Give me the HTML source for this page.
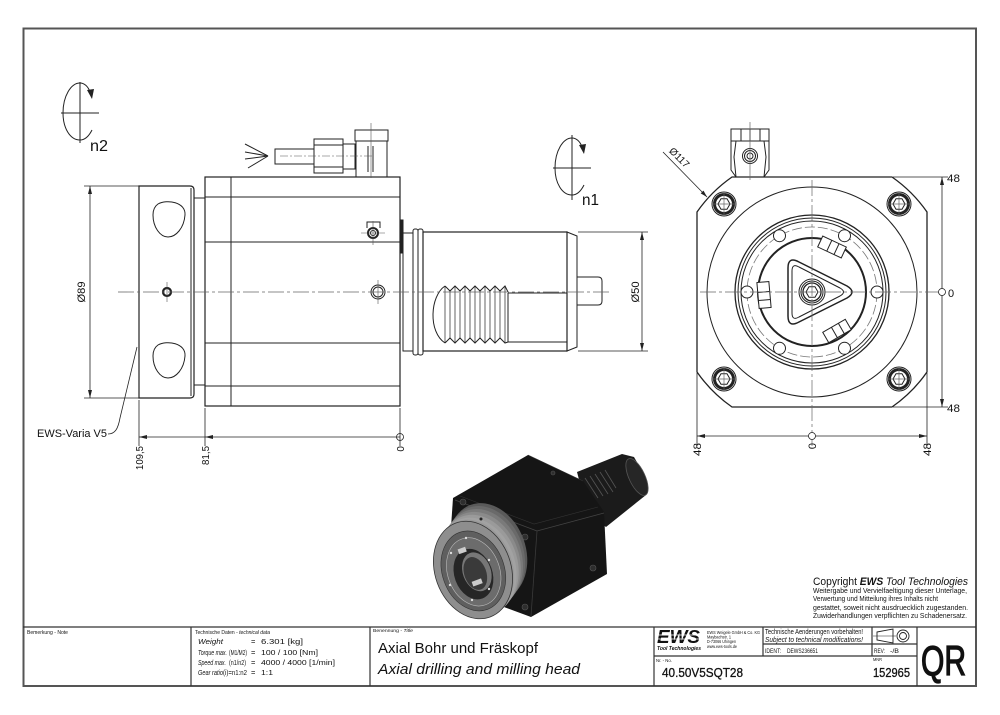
<!DOCTYPE html>
<html><head><meta charset="utf-8">
<style>
html,body{margin:0;padding:0;background:#fff;}
svg{display:block;}
text{font-family:"Liberation Sans",sans-serif;fill:#111;}
.it{font-style:italic;}
</style></head><body>
<svg width="1000" height="715" viewBox="0 0 1000 715" xmlns="http://www.w3.org/2000/svg">
<rect width="1000" height="715" fill="#fff"/>

<!-- FRAME -->
<rect x="23.5" y="28.5" width="952.5" height="657.5" fill="none" stroke="#555" stroke-width="2"/>

<!-- TITLE BLOCK LINES -->
<g stroke="#333" stroke-width="1.2" fill="none">
<line x1="23" y1="627" x2="976" y2="627"/>
<line x1="191" y1="627" x2="191" y2="686"/>
<line x1="370" y1="627" x2="370" y2="686"/>
<line x1="654" y1="627" x2="654" y2="686"/>
<line x1="763" y1="627" x2="763" y2="656"/>
<line x1="872" y1="627" x2="872" y2="656"/>
<line x1="917" y1="627" x2="917" y2="686"/>
<line x1="763" y1="644" x2="917" y2="644"/>
<line x1="654" y1="656" x2="917" y2="656"/>
</g>

<!-- TITLE BLOCK TEXT -->
<text x="27" y="634" font-size="5" textLength="41" lengthAdjust="spacingAndGlyphs">Bemerkung - Note</text>
<text x="195" y="634" font-size="5" textLength="75" lengthAdjust="spacingAndGlyphs">Technische Daten - <tspan class="it">technical data</tspan></text>
<g font-size="7.5">
<text x="198" y="644" class="it" textLength="25" lengthAdjust="spacingAndGlyphs">Weight</text>
<text x="251" y="644">=</text>
<text x="261" y="644" textLength="42" lengthAdjust="spacingAndGlyphs">6.301 [kg]</text>
<text x="198" y="655" class="it" textLength="29" lengthAdjust="spacingAndGlyphs">Torque max.</text>
<text x="229" y="655" textLength="18" lengthAdjust="spacingAndGlyphs">(M1/M2)</text>
<text x="251" y="655">=</text>
<text x="261" y="655" textLength="57" lengthAdjust="spacingAndGlyphs">100 / 100 [Nm]</text>
<text x="198" y="665" class="it" textLength="28" lengthAdjust="spacingAndGlyphs">Speed max.</text>
<text x="229" y="665" textLength="17" lengthAdjust="spacingAndGlyphs">(n1/n2)</text>
<text x="251" y="665">=</text>
<text x="261" y="665" textLength="74" lengthAdjust="spacingAndGlyphs">4000 / 4000 [1/min]</text>
<text x="198" y="675" class="it" textLength="25" lengthAdjust="spacingAndGlyphs">Gear ratio</text>
<text x="223" y="675" textLength="24" lengthAdjust="spacingAndGlyphs">(i)=n1:n2</text>
<text x="251" y="675">=</text>
<text x="261" y="675" textLength="12" lengthAdjust="spacingAndGlyphs">1:1</text>
</g>
<text x="373" y="632" font-size="4.5" textLength="40" lengthAdjust="spacingAndGlyphs">Benennung - <tspan class="it">Title</tspan></text>
<text x="378" y="653" font-size="15" textLength="160" lengthAdjust="spacingAndGlyphs">Axial Bohr und Fräskopf</text>
<text x="378" y="674" font-size="15" class="it" textLength="202" lengthAdjust="spacingAndGlyphs">Axial drilling and milling head</text>

<!-- EWS logo -->
<text x="657" y="643" font-size="18" font-weight="bold" class="it" textLength="43" lengthAdjust="spacingAndGlyphs">EWS</text>
<line x1="657" y1="635" x2="702" y2="635" stroke="#fff" stroke-width="0.8"/>
<line x1="657" y1="639" x2="702" y2="639" stroke="#fff" stroke-width="0.8"/>
<text x="657" y="650" font-size="5.5" font-weight="bold" class="it" textLength="44" lengthAdjust="spacingAndGlyphs">Tool Technologies</text>
<g font-size="4.3">
<text x="707" y="634" textLength="53" lengthAdjust="spacingAndGlyphs">EWS Weigele GmbH &amp; Co. KG</text>
<text x="707" y="638.5" textLength="24" lengthAdjust="spacingAndGlyphs">Maybachstr. 1</text>
<text x="707" y="643" textLength="29" lengthAdjust="spacingAndGlyphs">D-73066 Uhingen</text>
<text x="707" y="648" textLength="30" lengthAdjust="spacingAndGlyphs">www.ews-tools.de</text>
</g>
<text x="765" y="634" font-size="7" textLength="98" lengthAdjust="spacingAndGlyphs">Technische Aenderungen vorbehalten!</text>
<text x="765" y="642" font-size="7" class="it" textLength="98" lengthAdjust="spacingAndGlyphs">Subject to technical modifications!</text>
<text x="765" y="653" font-size="6.5" textLength="16" lengthAdjust="spacingAndGlyphs">IDENT:</text>
<text x="787" y="653" font-size="6.5" textLength="31" lengthAdjust="spacingAndGlyphs">DEWS236651</text>
<text x="874" y="653" font-size="6.5" textLength="11" lengthAdjust="spacingAndGlyphs">REV:</text>
<text x="890" y="653" font-size="6.5" textLength="9" lengthAdjust="spacingAndGlyphs">-/B</text>
<!-- projection symbol -->
<g fill="none" stroke="#222" stroke-width="0.9">
<polygon points="877,632 893,629 893,643 877,640"/>
<line x1="873" y1="636" x2="896" y2="636" stroke-width="0.6"/>
<circle cx="903" cy="636" r="6"/>
<circle cx="903" cy="636" r="3.5"/>
</g>
<text x="656" y="662" font-size="4.5" textLength="16" lengthAdjust="spacingAndGlyphs">Nr. - No.</text>
<text x="873" y="661" font-size="4.5" textLength="9" lengthAdjust="spacingAndGlyphs">MNR</text>
<text x="662" y="677" font-size="13" textLength="81" lengthAdjust="spacingAndGlyphs" stroke="#111" stroke-width="0.3">40.50V5SQT28</text>
<text x="873" y="677" font-size="13" textLength="37" lengthAdjust="spacingAndGlyphs" stroke="#111" stroke-width="0.3">152965</text>
<text x="921" y="675" font-size="42" textLength="45" lengthAdjust="spacingAndGlyphs" stroke="#111" stroke-width="1.3">QR</text>

<!-- COPYRIGHT -->
<text x="813" y="585" font-size="11" textLength="155" lengthAdjust="spacingAndGlyphs">Copyright <tspan font-weight="bold" class="it">EWS</tspan><tspan class="it"> Tool Technologies</tspan></text>
<g font-size="7.5">
<text x="813" y="593" textLength="154" lengthAdjust="spacingAndGlyphs">Weitergabe und Vervielfaeltigung dieser Unterlage,</text>
<text x="813" y="601" textLength="125" lengthAdjust="spacingAndGlyphs">Verwertung und Mitteilung ihres Inhalts nicht</text>
<text x="813" y="610" textLength="155" lengthAdjust="spacingAndGlyphs">gestattet, soweit nicht ausdruecklich zugestanden.</text>
<text x="813" y="618" textLength="154" lengthAdjust="spacingAndGlyphs">Zuwiderhandlungen verpflichten zu Schadenersatz.</text>
</g>

<!-- ROTATION SYMBOLS -->
<g fill="none" stroke="#222" stroke-width="1" transform="translate(80,113)">
<line x1="0" y1="-31" x2="0" y2="30"/>
<line x1="-19" y1="0" x2="19" y2="0"/>
<path d="M12,17 C8,25 4,27 0,27 C-10,27 -17,15 -17,0 C-17,-17 -9,-30 0,-30 C4,-30 8,-27 10,-21"/>
<polygon points="7,-23 14,-24 12,-14" fill="#222" stroke="none"/>
</g>
<text x="90" y="151" font-size="16" textLength="18" lengthAdjust="spacingAndGlyphs">n2</text>
<g fill="none" stroke="#222" stroke-width="1" transform="translate(572,168)">
<line x1="0" y1="-33" x2="0" y2="32"/>
<line x1="-19" y1="0" x2="19" y2="0"/>
<path d="M12,17 C8,25 4,27 0,27 C-10,27 -17,15 -17,0 C-17,-17 -9,-30 0,-30 C4,-30 8,-27 10,-21"/>
<polygon points="7,-23 14,-24 12,-14" fill="#222" stroke="none"/>
</g>
<text x="582" y="205" font-size="16" textLength="17" lengthAdjust="spacingAndGlyphs">n1</text>

<!-- LEFT VIEW -->
<g fill="none" stroke="#222" stroke-width="1">
<path d="M139,186 H190 Q194,186 194,190 V394 Q194,398 190,398 H139 Z" stroke-width="1.2"/>
<line x1="191" y1="188" x2="191" y2="396"/>
<rect x="194" y="198" width="11" height="187"/>
<path d="M158,204 C167,199 186,202 185,215 C184,228 176,237 168,237 C160,237 153,227 153,215 C153,210 155,206 158,204 Z"/>
<path d="M158,345 C167,340 186,343 185,356 C184,369 176,378 168,378 C160,378 153,368 153,356 C153,351 155,347 158,345 Z"/>
<rect x="205" y="177" width="195" height="229" stroke-width="1.2"/>
<line x1="231" y1="177" x2="231" y2="406"/>
<line x1="205" y1="197" x2="400" y2="197"/>
<line x1="205" y1="242" x2="400" y2="242"/>
<line x1="205" y1="343" x2="400" y2="343"/>
<line x1="205" y1="386" x2="400" y2="386"/>
<rect x="355" y="130" width="33" height="11"/>
<rect x="356" y="141" width="31" height="36"/>
<line x1="368" y1="146" x2="368" y2="172"/>
<line x1="373" y1="146" x2="373" y2="172"/>
<rect x="343" y="144" width="12" height="25"/>
<rect x="314" y="139" width="29" height="34"/>
<line x1="314" y1="145" x2="343" y2="145"/>
<line x1="314" y1="167" x2="343" y2="167"/>
<rect x="275" y="149" width="39" height="15"/>
<line x1="268" y1="156" x2="245" y2="144"/>
<line x1="268" y1="156" x2="245" y2="152"/>
<line x1="268" y1="156" x2="245" y2="159"/>
<line x1="268" y1="156" x2="248" y2="168"/>
<rect x="400" y="220" width="3" height="33" fill="#222"/>
<rect x="403" y="233" width="10" height="118"/>
<rect x="413" y="229" width="5" height="126" rx="2"/>
<rect x="418" y="229" width="5" height="126" rx="2"/>
<rect x="423" y="232" width="144" height="119" stroke-width="1.2"/>
<polygon points="567,232 577,236 577,347 567,351"/>
<path d="M577,277 H598 Q602,277 602,281 V301 Q602,305 598,305 H577"/>
<path d="M445,286 L450,291 L455,286 L460,291 L465,286 L470,291 L475,286 L480,291 L485,286 L490,291 L495,286 L500,291 L505,286 L508,292"/>
<path d="M445,343 L450,338 L455,343 L460,338 L465,343 L470,338 L475,343 L480,338 L485,343 L490,338 L495,343 L500,338 L505,343 L508,342"/>
<path d="M445,286 C430,296 428,332 445,343"/>
<g stroke-width="0.7">
<line x1="445" y1="286" x2="445" y2="343"/><line x1="450" y1="291" x2="450" y2="338"/>
<line x1="455" y1="286" x2="455" y2="343"/><line x1="460" y1="291" x2="460" y2="338"/>
<line x1="465" y1="286" x2="465" y2="343"/><line x1="470" y1="291" x2="470" y2="338"/>
<line x1="475" y1="286" x2="475" y2="343"/><line x1="480" y1="291" x2="480" y2="338"/>
<line x1="485" y1="286" x2="485" y2="343"/><line x1="490" y1="291" x2="490" y2="338"/>
<line x1="495" y1="286" x2="495" y2="343"/><line x1="500" y1="291" x2="500" y2="338"/>
<line x1="505" y1="286" x2="505" y2="343"/>
</g>
<line x1="508" y1="293" x2="508" y2="342"/>
<line x1="508" y1="293" x2="567" y2="293"/>
<line x1="508" y1="342" x2="567" y2="342"/>
<circle cx="167" cy="292" r="4" stroke-width="2.2"/>
<circle cx="378" cy="292" r="7"/>
<circle cx="378" cy="292" r="5"/>
<path d="M367,228 V222 H380 V228"/>
<circle cx="373" cy="233" r="5" stroke-width="2"/>
<circle cx="373" cy="233" r="2.5"/>
</g>
<g stroke="#555" stroke-width="0.6">
<line x1="167" y1="282" x2="167" y2="302"/>
<line x1="378" y1="280" x2="378" y2="304"/>
<line x1="373" y1="221" x2="373" y2="245"/>
<line x1="361" y1="233" x2="385" y2="233"/>
<line x1="371" y1="123" x2="371" y2="178"/>
<line x1="280" y1="156" x2="372" y2="156" stroke-dasharray="8 2 2 2"/>
</g>
<line x1="118" y1="292" x2="612" y2="292" stroke="#666" stroke-width="0.8" stroke-dasharray="16 3 3 3"/>

<!-- LEFT DIMENSIONS -->
<g stroke="#222" stroke-width="0.8" fill="none">
<line x1="90" y1="186" x2="90" y2="398"/>
<line x1="84" y1="186" x2="139" y2="186"/>
<line x1="84" y1="398" x2="139" y2="398"/>
<line x1="139" y1="437" x2="400" y2="437"/>
<line x1="139" y1="400" x2="139" y2="446"/>
<line x1="205" y1="408" x2="205" y2="446"/>
<line x1="400" y1="408" x2="400" y2="446"/>
<circle cx="400" cy="437" r="3.5"/>
<line x1="642" y1="232" x2="642" y2="351"/>
<line x1="578" y1="232" x2="648" y2="232"/>
<line x1="578" y1="351" x2="648" y2="351"/>
<path d="M108,434 C115,434 118,429 120,418 L137,347"/>
</g>
<g fill="#222">
<polygon points="90,186 88,194 92,194"/>
<polygon points="90,398 88,390 92,390"/>
<polygon points="139,437 147,435 147,439"/>
<polygon points="205,437 213,435 213,439"/>
<polygon points="642,232 640,240 644,240"/>
<polygon points="642,351 640,343 644,343"/>
</g>
<text transform="translate(85,292) rotate(-90)" font-size="11" text-anchor="middle" textLength="21" lengthAdjust="spacingAndGlyphs">Ø89</text>
<text transform="translate(639,292) rotate(-90)" font-size="11" text-anchor="middle" textLength="21" lengthAdjust="spacingAndGlyphs">Ø50</text>
<text transform="translate(143,446) rotate(-90)" font-size="10" text-anchor="end" textLength="24" lengthAdjust="spacingAndGlyphs">109,5</text>
<text transform="translate(209,446) rotate(-90)" font-size="10" text-anchor="end" textLength="19" lengthAdjust="spacingAndGlyphs">81,5</text>
<text transform="translate(404,446) rotate(-90)" font-size="10" text-anchor="end">0</text>
<text x="37" y="437" font-size="11" textLength="70" lengthAdjust="spacingAndGlyphs">EWS-Varia V5</text>

<!-- RIGHT VIEW -->
<g fill="none" stroke="#222" stroke-width="1">
<path d="M732,177 L892,177 A140,140 0 0 1 927,212 L927,372 A140,140 0 0 1 892,407 L732,407 A140,140 0 0 1 697,372 L697,212 A140,140 0 0 1 732,177 Z" stroke-width="1.3"/>
<circle cx="812" cy="292" r="105"/>
<circle cx="812" cy="292" r="77" stroke-width="1.3"/>
<circle cx="812" cy="292" r="74"/>
<circle cx="812" cy="292" r="71"/>
<circle cx="812" cy="292" r="65" stroke="#777" stroke-width="0.8" stroke-dasharray="10 3"/>
<circle cx="812" cy="292" r="54" stroke-width="2"/>
<g fill="#fff">
<circle cx="877" cy="292" r="6"/>
<circle cx="844.5" cy="235.7" r="6"/>
<circle cx="779.5" cy="235.7" r="6"/>
<circle cx="747" cy="292" r="6"/>
<circle cx="779.5" cy="348.3" r="6"/>
<circle cx="844.5" cy="348.3" r="6"/>
</g>
<path d="M788,268 L788,316 Q788,328 799,322 L847,298 Q857,292 847,286 L799,262 Q788,256 788,268 Z" stroke-width="1.5"/>
<path d="M792,271 L792,313 Q792,321 799,317 L840,296 Q847,292 840,288 L799,267 Q792,263 792,271 Z"/>
<circle cx="812" cy="292" r="13"/>
<circle cx="812" cy="292" r="11"/>
<circle cx="812" cy="292" r="9" stroke-width="1.3"/>
<polygon points="818,292 815,297.2 809,297.2 806,292 809,286.8 815,286.8"/>
<g transform="translate(832,247) rotate(25)" fill="#fff">
<rect x="-13" y="-6" width="26" height="12"/>
<line x1="-3" y1="-6" x2="-3" y2="6"/><line x1="5" y1="-6" x2="5" y2="6"/>
</g>
<g transform="translate(764,295) rotate(-5)" fill="#fff">
<rect x="-6" y="-13" width="12" height="26"/>
<line x1="-6" y1="-3" x2="6" y2="-3"/><line x1="-6" y1="5" x2="6" y2="5"/>
</g>
<g transform="translate(837,331) rotate(-30)" fill="#fff">
<rect x="-13" y="-6" width="26" height="12"/>
<line x1="-3" y1="-6" x2="-3" y2="6"/><line x1="5" y1="-6" x2="5" y2="6"/>
</g>
<circle cx="724" cy="204" r="12" fill="#fff"/><circle cx="724" cy="204" r="9.5" stroke-width="3"/>
<polygon points="730,204 727,209.2 721,209.2 718,204 721,198.8 727,198.8"/>
<circle cx="899" cy="204" r="12" fill="#fff"/><circle cx="899" cy="204" r="9.5" stroke-width="3"/>
<polygon points="905,204 902,209.2 896,209.2 893,204 896,198.8 902,198.8"/>
<circle cx="724" cy="379" r="12" fill="#fff"/><circle cx="724" cy="379" r="9.5" stroke-width="3"/>
<polygon points="730,379 727,384.2 721,384.2 718,379 721,373.8 727,373.8"/>
<circle cx="899" cy="379" r="12" fill="#fff"/><circle cx="899" cy="379" r="9.5" stroke-width="3"/>
<polygon points="905,379 902,384.2 896,384.2 893,379 896,373.8 902,373.8"/>
<rect x="731" y="129" width="38" height="12"/>
<line x1="741" y1="129" x2="741" y2="141"/>
<line x1="750" y1="129" x2="750" y2="141"/>
<line x1="760" y1="129" x2="760" y2="141"/>
<path d="M731,141 H769 V170 L764,177 H736 L731,170 Z"/>
<path d="M736,141 L734,157 L736,177 M764,141 L766,157 L764,177"/>
<circle cx="750" cy="156" r="7.5"/>
<circle cx="750" cy="156" r="5.5"/>
<circle cx="750" cy="156" r="3"/>
</g>
<g stroke="#666" stroke-width="0.7">
<line x1="812" y1="180" x2="812" y2="448" stroke-dasharray="16 3 3 3"/>
<line x1="700" y1="292" x2="940" y2="292" stroke-dasharray="16 3 3 3"/>
<line x1="750" y1="122" x2="750" y2="180"/>
<line x1="712" y1="204" x2="736" y2="204"/><line x1="724" y1="192" x2="724" y2="216"/>
<line x1="887" y1="204" x2="911" y2="204"/><line x1="899" y1="192" x2="899" y2="216"/>
<line x1="712" y1="379" x2="736" y2="379"/><line x1="724" y1="367" x2="724" y2="391"/>
<line x1="887" y1="379" x2="911" y2="379"/><line x1="899" y1="367" x2="899" y2="391"/>
</g>
<g stroke="#222" stroke-width="0.8" fill="none">
<line x1="942" y1="177" x2="942" y2="407"/>
<line x1="893" y1="177" x2="948" y2="177"/>
<line x1="893" y1="407" x2="948" y2="407"/>
<circle cx="942" cy="292" r="3.5" fill="#fff"/>
<line x1="697" y1="436" x2="927" y2="436"/>
<line x1="697" y1="373" x2="697" y2="446"/>
<line x1="927" y1="373" x2="927" y2="446"/>
<circle cx="812" cy="436" r="3.5" fill="#fff"/>
<line x1="663" y1="152" x2="707" y2="197"/>
</g>
<g fill="#222">
<polygon points="942,177 940,185 944,185"/>
<polygon points="942,407 940,399 944,399"/>
<polygon points="697,436 705,434 705,438"/>
<polygon points="927,436 919,434 919,438"/>
<polygon points="707,197 700.7,193.4 703.5,190.6"/>
</g>
<text x="947" y="182" font-size="11" textLength="13" lengthAdjust="spacingAndGlyphs">48</text>
<text x="948" y="297" font-size="11">0</text>
<text x="947" y="412" font-size="11" textLength="13" lengthAdjust="spacingAndGlyphs">48</text>
<text transform="translate(701,443) rotate(-90)" font-size="11" text-anchor="end" textLength="13" lengthAdjust="spacingAndGlyphs">48</text>
<text transform="translate(816,443) rotate(-90)" font-size="11" text-anchor="end">0</text>
<text transform="translate(931,443) rotate(-90)" font-size="11" text-anchor="end" textLength="13" lengthAdjust="spacingAndGlyphs">48</text>
<text transform="translate(677,160) rotate(45)" font-size="10" text-anchor="middle" textLength="24" lengthAdjust="spacingAndGlyphs">Ø117</text>

<!-- 3D MODEL -->
<g>
<polygon points="577,472 622,454 634,457 645,476 646,495 606,527 588,514" fill="#1b1b1b"/>
<ellipse cx="637" cy="477" rx="8" ry="20" transform="rotate(-25 637 477)" fill="#262626" stroke="#555" stroke-width="0.8"/>
<g stroke="#555" stroke-width="0.8">
<line x1="585" y1="478" x2="598" y2="498"/>
<line x1="590" y1="476" x2="603" y2="496"/>
<line x1="595" y1="474" x2="608" y2="494"/>
<line x1="600" y1="472" x2="613" y2="492"/>
<line x1="605" y1="470" x2="616" y2="488"/>
</g>
<polygon points="453,498 528,455 583,481 604,512 607,574 531,617 447,586" fill="#151515"/>
<polyline points="455,500 537,531 604,513" stroke="#444" stroke-width="0.8" fill="none"/>
<polyline points="460,496 534,524 598,507" stroke="#333" stroke-width="0.6" fill="none"/>
<line x1="537" y1="531" x2="531" y2="616" stroke="#3a3a3a" stroke-width="0.8"/>
<line x1="528" y1="455" x2="583" y2="481" stroke="#333" stroke-width="0.6"/>
<g fill="#2e2e2e" stroke="#555" stroke-width="0.6">
<circle cx="463" cy="502" r="3"/>
<circle cx="525" cy="537" r="3"/>
<circle cx="525" cy="607" r="3"/>
<circle cx="593" cy="568" r="3"/>
<circle cx="553" cy="473" r="2"/>
</g>
<circle cx="507" cy="543" r="5" fill="#444" stroke="#999" stroke-width="0.8"/>
<g transform="rotate(-20 480 560)">
<ellipse cx="490" cy="555" rx="38" ry="50" fill="#5a5a5a"/>
<ellipse cx="487" cy="557" rx="38" ry="50" fill="#6a6a6a"/>
<ellipse cx="484" cy="559" rx="38" ry="50" fill="#7a7a7a"/>
<ellipse cx="481" cy="561" rx="38" ry="50" fill="#8a8a8a"/>
<ellipse cx="478" cy="563" rx="38" ry="50" fill="#9a9a9a"/>
<ellipse cx="475" cy="565" rx="38" ry="50" fill="#a2a2a2"/>
<ellipse cx="472" cy="566" rx="38" ry="50" fill="#999"/>
<ellipse cx="470" cy="567" rx="38" ry="50" fill="#8e8e8e" stroke="#333" stroke-width="0.8"/>
<ellipse cx="470" cy="568" rx="31" ry="41" fill="#5f5f5f" stroke="#333" stroke-width="0.6"/>
<ellipse cx="470" cy="569" rx="26" ry="35" fill="#6c6c6c" stroke="#bbb" stroke-width="0.6"/>
<ellipse cx="469" cy="571" rx="19" ry="26" fill="#262626"/>
<ellipse cx="473" cy="570" rx="14" ry="20" fill="#777"/>
<ellipse cx="471" cy="571" rx="11" ry="17" fill="#3a3a3a"/>
</g>
<rect x="458" y="548" width="8" height="5" fill="#ccc" transform="rotate(-20 462 550)"/>
<rect x="472" y="580" width="10" height="5" fill="#ccc" transform="rotate(-20 477 582)"/>
<g fill="#ddd">
<circle cx="451" cy="553" r="1.2"/><circle cx="466" cy="538" r="1.2"/>
<circle cx="489" cy="560" r="1.2"/><circle cx="450" cy="585" r="1.2"/>
<circle cx="472" cy="600" r="1.2"/><circle cx="489" cy="589" r="1.2"/>
</g>
<circle cx="481" cy="519" r="1.5" fill="#222"/>
</g>
</svg>
</body></html>
